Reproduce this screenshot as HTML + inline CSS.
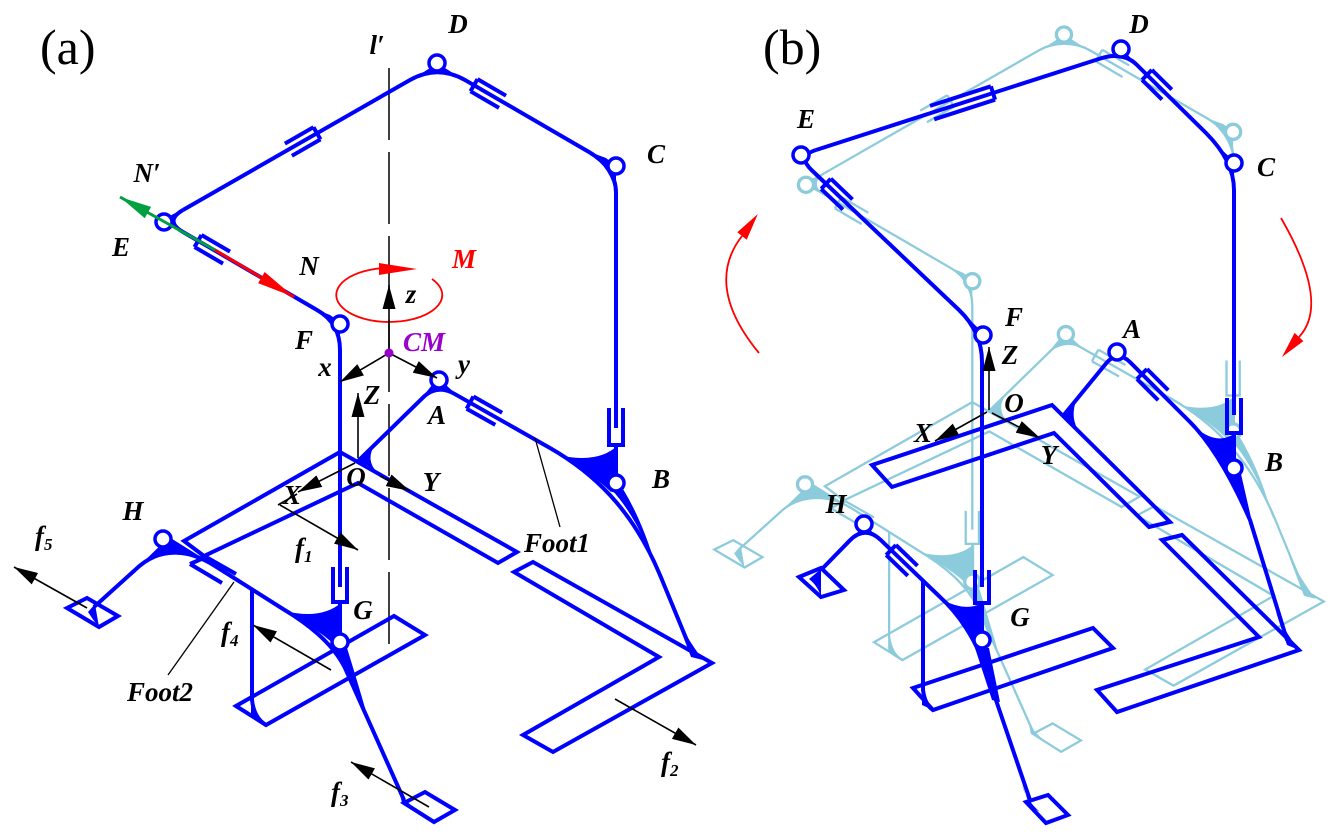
<!DOCTYPE html>
<html><head><meta charset="utf-8"><style>
html,body{margin:0;padding:0;background:#fff;}
svg{display:block;}
.lb{font-family:"Liberation Serif",serif;font-weight:bold;font-style:italic;font-size:27px;fill:#000;}
.big{font-family:"Liberation Serif",serif;font-size:50px;fill:#000;}
</style></head><body>
<svg width="1334" height="838" viewBox="0 0 1334 838" xmlns="http://www.w3.org/2000/svg">
<defs>
<marker id="ah" viewBox="0 0 24 13" refX="24" refY="6.5" markerWidth="24" markerHeight="13" markerUnits="userSpaceOnUse" orient="auto"><path d="M0,0 L24,6.5 L0,13 Z" fill="#000"/></marker>
<marker id="ahr" viewBox="0 0 38 13" refX="38" refY="6.5" markerWidth="38" markerHeight="13" markerUnits="userSpaceOnUse" orient="auto"><path d="M0,0 L38,6.5 L0,13 Z" fill="#ff0000"/></marker>
<marker id="ahg" viewBox="0 0 32 13" refX="32" refY="6.5" markerWidth="32" markerHeight="13" markerUnits="userSpaceOnUse" orient="auto"><path d="M0,0 L32,6.5 L0,13 Z" fill="#00a040"/></marker>

<g id="mech" fill="none" stroke="currentColor">
  <!-- links -->
  <path d="M183,210 L410,80 Q437.5,64.5 465,80 L589,152 Q616,168 616,193 L616,428 M616,445 L616,480"/>
  <path d="M183,210 Q164,221 183,232 L317,310 Q340,323 340,350 L340,587 M340,602 L340,636"/>
  <path d="M357,462 L422.6,397.9 Q436.7,383.6 454.4,393.8 L550,448 C592,472 632,508 660,575 L693,655"/>
  <path d="M94,607 L135,570 Q169,537 215,566 L283,609 C305,622 332,642 345,668 L404,800"/>
  <path d="M252,589 L252,700 Q254,718 266,725"/>
  <!-- sleeves -->
  <path d="M609,408 L609,445 L623,445 L623,408"/>
  <path d="M333,567 L333,602 L347,602 L347,567"/>
  <path d="M313.5,127.2 L320.5,139.4 M313.5,127.2 L284.9,143.6 M320.5,139.4 L291.9,155.8"/>
  <path d="M470.5,91.3 L477.5,79.1 M470.5,91.3 L499,107.9 M477.5,79.1 L506,95.7"/>
  <path d="M194.5,247 L201.5,235 M194.5,247 L223,263.6 M201.5,235 L230,251.6"/>
  <path d="M466.6,408.7 L473.4,396.5 M466.6,408.7 L495.3,424.9 M473.4,396.5 L502.1,412.7"/>
  <path d="M190,564 L206,557 M206,557 L236,574 M190,564 L222,583"/>
  <!-- feet -->
  <path d="M340,452 L184,541 L204,556 L358,483 L498,563 L517,552 Z"/>
  <path d="M514,572 L533,562 L712,663 L553,752 L523,735 L659,657 Z"/>
  <path d="M236,706 L266,725 L425,635 L394,616 Z"/>
  <path d="M67,608 L87,598 L118,616 L99,627 Z"/>
  <path d="M404,803 L425,792 L455,810 L434,822 Z"/>
  <!-- webs -->
  <g fill="currentColor" stroke="none">
    <path d="M185,208 Q166,221 185,234 L160,221 Z"/>
    <path d="M408,82 Q437.5,66 467,82 L445,68 L430,68 Z"/>
    <path d="M587,151 Q612,168 616,196 L616,166 L606,158 Z"/>
    <path d="M315,309 Q337,322 340,352 L340,322 L330,315 Z"/>
    <path d="M420,400 Q438,386 457,395 L446,385 L432,385 Z"/>
    <path d="M133,572 Q169,540 217,567 L169,537 Z"/>
    <path d="M357,462 L376,443 Q364,460 378,473 Z"/>
    <path d="M563,456 Q600,463 618,445 L618,484 L611,492 Q590,472 563,456 Z"/>
    <path d="M611,489 L623,489 Q645,525 659,578 Q640,520 611,489 Z"/>
    <path d="M675,615 Q688,640 703,660 L691,657 Z"/>
    <path d="M285,611 Q322,620 342,602 L342,638 L336,646 Q314,626 285,611 Z"/>
    <path d="M335,648 L347,648 Q360,690 369,722 Q352,685 335,648 Z"/>
    <path d="M397,780 Q400,797 414,808 L402,803 Z"/>
    <path d="M95,604 L88,612 Q93,620 99,627 Z"/>
    <path d="M251,698 Q254,718 266,725 L251,716 Z"/>
  </g>
  <!-- joints -->
  <g fill="#fff" stroke-width="3.5">
    <circle cx="437" cy="63" r="8"/>
    <circle cx="616" cy="166" r="8"/>
    <circle cx="164" cy="222" r="8"/>
    <circle cx="340" cy="324" r="8"/>
    <circle cx="439" cy="380" r="8"/>
    <circle cx="616" cy="483" r="8"/>
    <circle cx="340" cy="642" r="8"/>
    <circle cx="163" cy="539" r="8"/>
  </g>
</g>
</defs>

<!-- ===== Panel (a) ===== -->
<line x1="389" y1="68" x2="389" y2="650" stroke="#000" stroke-width="1.5" stroke-dasharray="72 12"/>
<use href="#mech" style="color:#0000ff" stroke-width="4"/>

<!-- red/green arrows -->
<line x1="215" y1="250" x2="294" y2="297" stroke="#ff0000" stroke-width="3" marker-end="url(#ahr)"/>
<line x1="215" y1="250" x2="120" y2="197" stroke="#00a040" stroke-width="3" marker-end="url(#ahg)"/>

<!-- moment ellipse -->
<path d="M432,279 A53,27 0 1 1 392,268" fill="none" stroke="#ff0000" stroke-width="1.8"/>
<polygon points="379,263 417,269 379,275" fill="#ff0000"/>

<!-- CM frame -->
<g stroke="#000" stroke-width="1.6" fill="none">
  <line x1="389" y1="353" x2="389" y2="285" marker-end="url(#ah)"/>
  <line x1="389" y1="353" x2="340" y2="382" marker-end="url(#ah)"/>
  <line x1="389" y1="353" x2="437" y2="378" marker-end="url(#ah)"/>
  <line x1="358" y1="458" x2="358" y2="393" marker-end="url(#ah)"/>
  <line x1="355" y1="463" x2="298" y2="492" marker-end="url(#ah)"/>
  <line x1="380" y1="476" x2="410" y2="491" marker-end="url(#ah)"/>
  <line x1="280" y1="505" x2="358" y2="550" marker-end="url(#ah)"/>
  <line x1="278" y1="505" x2="297" y2="494"/>
  <line x1="615" y1="699" x2="696" y2="745" marker-end="url(#ah)"/>
  <line x1="429" y1="807" x2="351" y2="762" marker-end="url(#ah)"/>
  <line x1="331" y1="670" x2="253" y2="625" marker-end="url(#ah)"/>
  <line x1="87" y1="608" x2="14" y2="567" marker-end="url(#ah)"/>
</g>
<circle cx="389" cy="353" r="4.5" fill="#9900cc"/>
<g stroke="#000" stroke-width="1.3">
  <line x1="535" y1="438" x2="560" y2="527"/>
  <line x1="234" y1="582" x2="168" y2="675"/>
</g>

<!-- labels (a) -->
<text class="big" x="40" y="64">(a)</text>
<g class="lb" text-anchor="middle">
  <text x="458" y="33">D</text>
  <text x="377" y="54">l′</text>
  <text x="656" y="163">C</text>
  <text x="147" y="182">N′</text>
  <text x="121" y="256">E</text>
  <text x="309" y="275">N</text>
  <text x="464" y="268" style="fill:#ff0000">M</text>
  <text x="304" y="349">F</text>
  <text x="411" y="303">z</text>
  <text x="424" y="351" style="fill:#9900cc">CM</text>
  <text x="325" y="376">x</text>
  <text x="464" y="373">y</text>
  <text x="372" y="404">Z</text>
  <text x="437" y="424">A</text>
  <text x="356" y="486">O</text>
  <text x="292" y="504">X</text>
  <text x="431" y="491">Y</text>
  <text x="661" y="488">B</text>
  <text x="133" y="520">H</text>
  <text x="363" y="619">G</text>
  <text x="557" y="552">Foot1</text>
  <text x="160" y="701">Foot2</text>
</g>
<g class="lb">
  <text x="35" y="545">f<tspan font-size="17" dy="5">5</tspan></text>
  <text x="295" y="557">f<tspan font-size="17" dy="5">1</tspan></text>
  <text x="221" y="641">f<tspan font-size="17" dy="5">4</tspan></text>
  <text x="661" y="771">f<tspan font-size="17" dy="5">2</tspan></text>
  <text x="331" y="801">f<tspan font-size="17" dy="5">3</tspan></text>
</g>

<!-- ===== Panel (b) ===== -->
<use href="#mech" transform="translate(651,-25) scale(0.945)" style="color:#8ccbdb" stroke-width="2.4"/>

<g fill="none" stroke="#0000ff" stroke-width="4">
  <path d="M816,150 L1100,58.6 Q1123,51 1137,65 L1206,133 Q1234,161 1234,190 L1234,415 M1234,433 L1234,462"/>
  <path d="M816,150 Q797,156 811.5,170 L959,310 Q982,332 982,362 L982,587 M982,603 L982,633"/>
  <path d="M1063,416 L1106,363.5 Q1117.5,349.6 1130.2,362.3 L1190,422 C1207,439 1228,470 1250,520 L1287,640"/>
  <path d="M821,570 L849.6,540.7 Q864.9,524.9 880.8,540.1 L940,597 C960,615 975,640 983,662 L1030,800"/>
  <path d="M923,581 L923,690 Q925,705 933,710"/>
  <path d="M1227,398 L1227,433 L1241,433 L1241,398"/>
  <path d="M975,570 L975,603 L989,603 L989,570"/>
  <path d="M990.9,86.3 L995.1,99.7 M990.9,86.3 L930,105.9 M995.1,99.7 L934.2,119.3"/>
  <path d="M1142.1,79.9 L1151.9,69.9 M1142.1,79.9 L1162,99.6 M1151.9,69.9 L1171.8,89.6"/>
  <path d="M821.2,188.9 L830.8,178.7 M821.2,188.9 L842.9,209.6 M830.8,178.7 L852.5,199.4"/>
  <path d="M1137,379 L1147,369 M1137,379 L1158.2,400.2 M1147,369 L1168.2,390.2"/>
  <path d="M886.2,555 L895.9,545 M886.2,555 L907.8,575.8 M895.9,545 L917.5,565.8"/>
  <path d="M872,465 L1052,405 L1170,522 L1149,527 L1054,433 L892,487 Z"/>
  <path d="M1162,540 L1182,535 L1299,650 L1117,712 L1097,690 L1259,637 Z"/>
  <path d="M913,688 L1093,628 L1113,648 L933,710 Z"/>
  <path d="M799,577 L821,568 L844,590 L821,597 Z"/>
  <path d="M1026,802 L1048,795 L1068,815 L1046,823 Z"/>
</g>
<g fill="#0000ff">
  <path d="M818,148 Q799,156 813,172 L795,156 Z"/>
  <path d="M1098,60 Q1123,52 1139,67 L1128,55 L1115,54 Z"/>
  <path d="M1204,131 Q1230,158 1234,193 L1234,161 L1222,150 Z"/>
  <path d="M957,308 Q979,330 982,365 L982,332 L972,322 Z"/>
  <path d="M1104,366 Q1117.5,351 1132,364 L1122,352 L1112,353 Z"/>
  <path d="M847,543 Q864.9,526 883,542 L864.9,524.9 Z"/>
  <path d="M1063,416 L1077,398 Q1069,418 1080,433 Z"/>
  <path d="M1196,428 Q1218,446 1235,433 L1235,462 L1226,470 Q1212,450 1196,428 Z"/>
  <path d="M1226,474 L1241,474 L1252,522 L1244,510 Z"/>
  <path d="M1276,612 Q1285,632 1299,650 L1287,645 Z"/>
  <path d="M943,600 Q965,612 983,603 L983,633 L975,641 Q962,615 943,600 Z"/>
  <path d="M975,648 L989,648 L1000,702 L992,700 Z"/>
  <path d="M1022,785 Q1026,800 1040,812 L1030,806 Z"/>
  <path d="M821,569 L809,579 Q818,586 821,597 Z"/>
  <path d="M922,684 Q925,703 933,710 L922,705 Z"/>
</g>
<g fill="#fff" stroke="#0000ff" stroke-width="3.5">
  <circle cx="1121" cy="49" r="8"/>
  <circle cx="801" cy="155" r="8"/>
  <circle cx="1234" cy="163" r="8"/>
  <circle cx="983" cy="335" r="8"/>
  <circle cx="1117" cy="352" r="8"/>
  <circle cx="1234" cy="468" r="8"/>
  <circle cx="982" cy="640" r="8"/>
  <circle cx="864" cy="524" r="8"/>
</g>

<!-- axes (b) -->
<g stroke="#000" stroke-width="1.6" fill="none">
  <line x1="989" y1="410" x2="989" y2="347" marker-end="url(#ah)"/>
  <line x1="987" y1="412" x2="935" y2="441" marker-end="url(#ah)"/>
  <line x1="992" y1="413" x2="1040" y2="438" marker-end="url(#ah)"/>
</g>

<!-- red rotation arrows -->
<path d="M759,353 Q703.5,285.5 742,236" fill="none" stroke="#ff0000" stroke-width="1.8"/>
<polygon points="757.9,214 746.7,239.7 737.3,232.3" fill="#ff0000"/>
<path d="M1281,218 Q1330.5,303.5 1299,337" fill="none" stroke="#ff0000" stroke-width="1.8"/>
<polygon points="1282,357 1303.4,341.1 1294.6,332.9" fill="#ff0000"/>

<!-- labels (b) -->
<text class="big" x="763" y="64">(b)</text>
<g class="lb" text-anchor="middle">
  <text x="1139" y="33">D</text>
  <text x="806" y="128">E</text>
  <text x="1266" y="176">C</text>
  <text x="1014" y="326">F</text>
  <text x="1132" y="338">A</text>
  <text x="1010" y="364">Z</text>
  <text x="1014" y="412">O</text>
  <text x="923" y="442">X</text>
  <text x="1049" y="464">Y</text>
  <text x="1274" y="471">B</text>
  <text x="836" y="513">H</text>
  <text x="1020" y="626">G</text>
</g>
</svg>
</body></html>
